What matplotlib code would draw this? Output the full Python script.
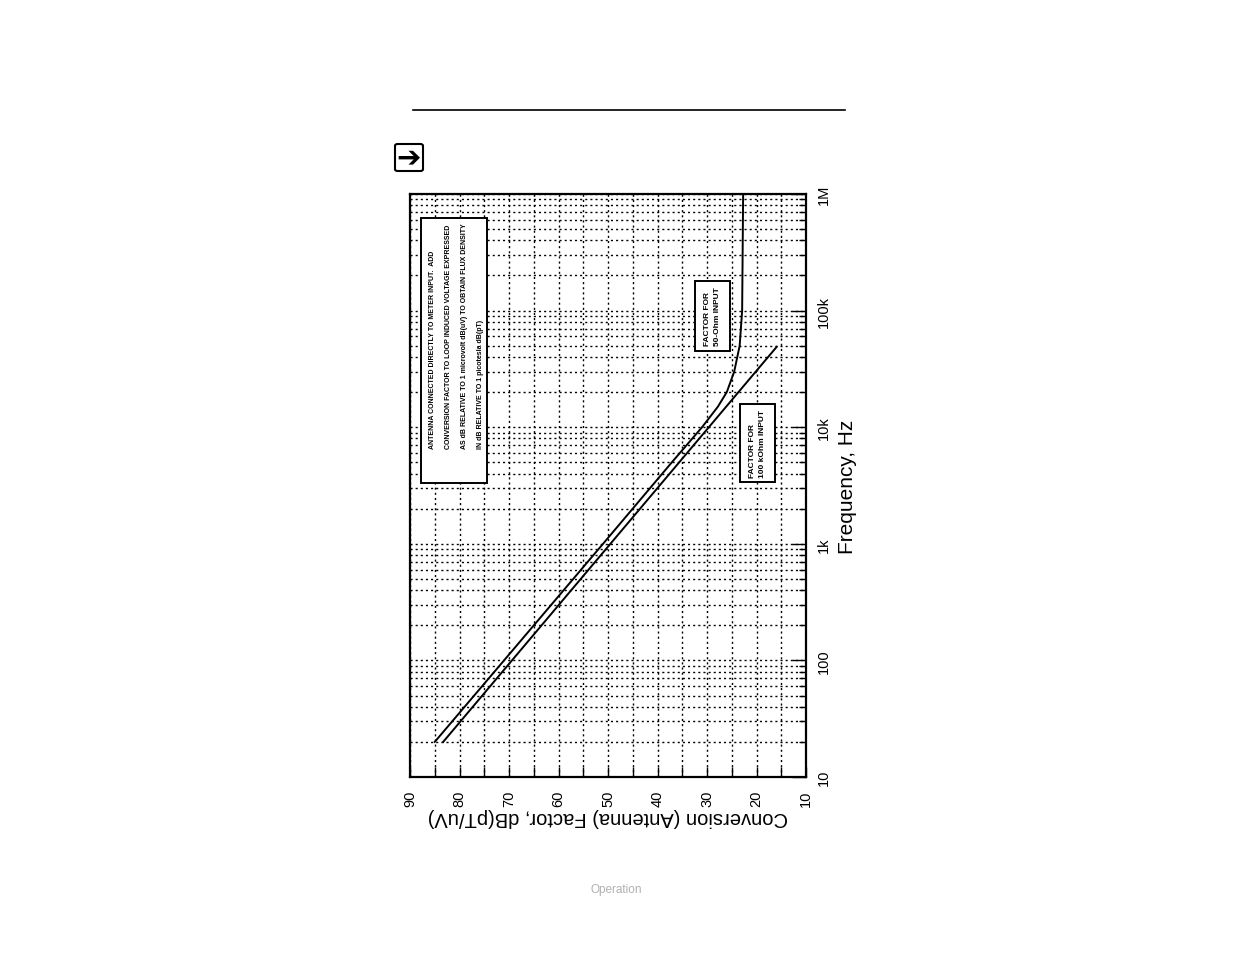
import matplotlib
matplotlib.use("Agg")
import matplotlib.pyplot as plt
from matplotlib.patches import Rectangle, FancyBboxPatch
from matplotlib.lines import Line2D
from matplotlib.ticker import FixedLocator, NullFormatter, LogLocator

plt.rcParams['font.family'] = ['Liberation Sans', 'DejaVu Sans']

# values (frequency in Hz, factor in dB(pT/uV))
freq_100k = [20, 49000]
db_100k = [83.3, 15.9]

freq_50 = [20, 100, 1000, 5000, 10000, 15000, 20000, 30000, 50000, 100000, 1000000]
db_50 = [85.0, 71.0, 51.0, 37.1, 31.0, 27.8, 26.0, 24.5, 23.4, 22.9, 22.7]

db_ticks = [90, 80, 70, 60, 50, 40, 30, 20, 10]
freq_ticks = [10, 100, 1000, 10000, 100000, 1000000]
freq_labels = ["10", "100", "1k", "10k", "100k", "1M"]

note_text = ("ANTENNA CONNECTED DIRECTLY TO METER INPUT.  ADD\n"
             "CONVERSION FACTOR TO LOOP INDUCED VOLTAGE EXPRESSED\n"
             "AS dB RELATIVE TO 1 microvolt dB(uV) TO OBTAIN FLUX DENSITY\n"
             "IN dB RELATIVE TO 1 picotesla dB(pT)")
label_50 = "FACTOR FOR\n50-Ohm INPUT"
label_100k = "FACTOR FOR\n100 kOhm INPUT"

W, H = 1235, 954


def px(x, y):
    return x / W, 1 - y / H


fig = plt.figure(figsize=(12.35, 9.54), dpi=100)
ax = fig.add_axes([410 / W, 1 - 778 / H, 396 / W, 583 / H])

ax.set_yscale('log')
ax.set_xlim(90, 10)
ax.set_ylim(10, 1e6)

ax.plot(db_50, freq_50, color='black', lw=1.4)
ax.plot(db_100k, freq_100k, color='black', lw=1.4)

# grid
ax.xaxis.set_major_locator(FixedLocator(db_ticks))
ax.xaxis.set_minor_locator(FixedLocator(list(range(85, 10, -10))))
ax.yaxis.set_major_locator(FixedLocator(freq_ticks))
ax.yaxis.set_minor_locator(LogLocator(base=10, subs=range(2, 10), numticks=20))
ax.yaxis.set_minor_formatter(NullFormatter())
ax.set_yticklabels(freq_labels)
ax.grid(True, which='both', color='black', linestyle=(0, (1.5, 2.2)), lw=1.0)

ax.yaxis.tick_right()
ax.tick_params(axis='both', which='both', direction='in', color='black')
ax.tick_params(axis='x', which='major', length=7, width=1, pad=9, labelsize=10.5, labelrotation=90)
ax.tick_params(axis='x', which='minor', length=7, width=1)
ax.tick_params(axis='y', which='major', length=10, width=1, pad=8, labelsize=10.5, labelrotation=90)
ax.tick_params(axis='y', which='minor', length=5, width=1)
for lab in ax.get_yticklabels():
    lab.set_va('center')
for sp in ax.spines.values():
    sp.set_linewidth(1.6)

ax.set_xlabel("Conversion (Antenna) Factor, dB(pT/uV)", fontsize=14.5, rotation=180, labelpad=1)
ax.yaxis.set_label_position('right')
ax.set_ylabel("Frequency, Hz", fontsize=15, rotation=90, labelpad=5)

# note box
x0, y0 = px(421, 484)
x1, y1 = px(487, 219)
fig.patches.append(Rectangle((x0, y0), x1 - x0, y1 - y0, transform=fig.transFigure,
                             facecolor='white', edgecolor='black', lw=1.4, zorder=5))
fig.text(*px(456.5, 449), note_text, rotation=90, ha='center', va='bottom',
         multialignment='left', fontsize=5.0, fontweight='bold', linespacing=2.75,
         zorder=6)

x0, y0 = px(695, 352)
x1, y1 = px(730, 282)
fig.patches.append(Rectangle((x0, y0), x1 - x0, y1 - y0, transform=fig.transFigure,
                             facecolor='white', edgecolor='black', lw=1.4, zorder=5))
fig.text(*px(712.5, 317), label_50, rotation=90, ha='center', va='center',
         multialignment='left', fontsize=6.0, fontweight='bold', linespacing=1.7, zorder=6)

x0, y0 = px(740, 483)
x1, y1 = px(775, 405)
fig.patches.append(Rectangle((x0, y0), x1 - x0, y1 - y0, transform=fig.transFigure,
                             facecolor='white', edgecolor='black', lw=1.4, zorder=5))
fig.text(*px(757.5, 444), label_100k, rotation=90, ha='center', va='center',
         multialignment='left', fontsize=6.0, fontweight='bold', linespacing=1.7, zorder=6)

# page header rule and arrow icon
fig.add_artist(Line2D([413 / W, 845 / W], [1 - 111 / H, 1 - 111 / H], color='black', lw=1.2))
bx, by = px(395, 172)
fig.patches.append(FancyBboxPatch((bx, by), 28 / W, 27 / H, boxstyle="round,pad=0,rounding_size=0.002",
                                  transform=fig.transFigure, facecolor='white', edgecolor='black', lw=1.5))
fig.text(*px(409, 158.5), "\u2794", ha='center', va='center', fontsize=21,
         family='DejaVu Sans', fontweight='bold')

fig.text(*px(616, 890), "Operation", ha='center', va='center', fontsize=8.5, color='#b0b0b0')

fig.savefig("out.png", dpi=100)
